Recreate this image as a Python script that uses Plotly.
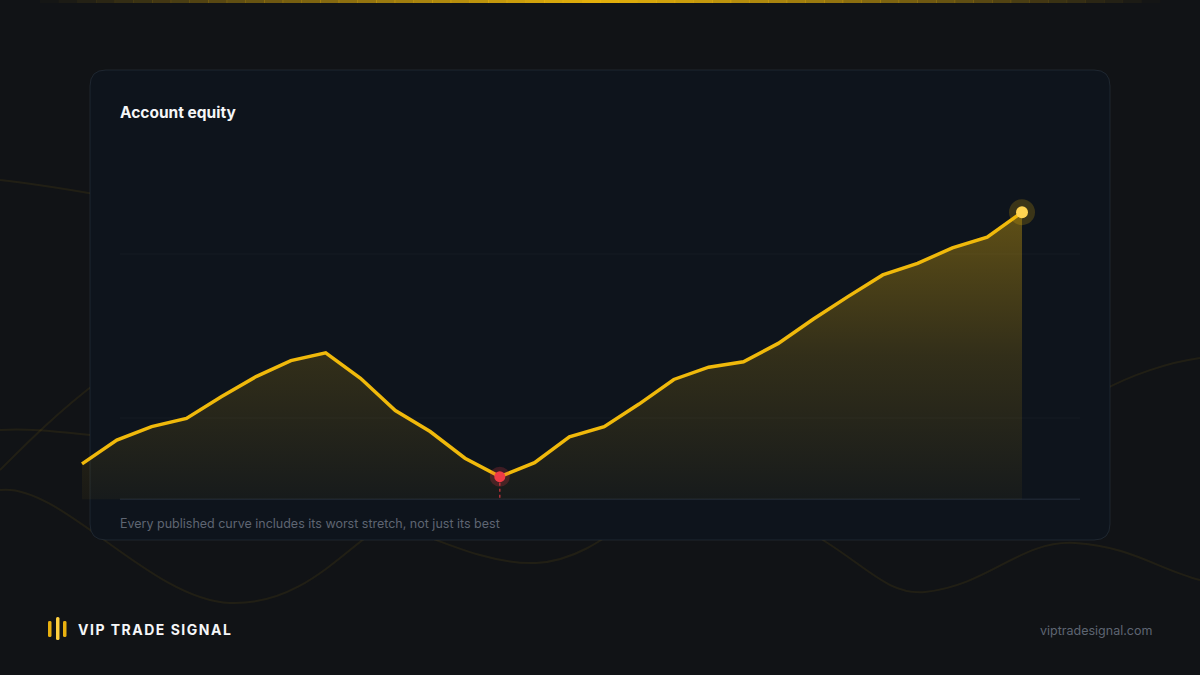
import plotly.graph_objects as go

W, H = 1200, 675

# equity curve, in thousands
days = list(range(1, 29))
equity = [9.88, 10.46, 10.79, 10.99, 11.52, 12.01, 12.40, 12.59, 11.97, 11.18,
          10.67, 10.02, 9.57, 9.91, 10.54, 10.79, 11.34, 11.94, 12.24, 12.37,
          12.82, 13.41, 13.96, 14.49, 14.77, 15.15, 15.41, 16.02]
grid_levels = [11, 15]
baseline = 9.02

title = "Account equity"
caption = "Every published curve includes its worst stretch, not just its best"
brand = "VIP TRADE SIGNAL"
site = "viptradesignal.com"

GOLD = "#f0b90b"
FONT = "Inter, Roboto, sans-serif"


def pt(x, y):
    # pixel -> paper coords
    return "%.5f,%.5f" % (x / W, 1 - y / H)


def rounded_rect(x0, y0, x1, y1, r):
    return ("M" + pt(x0 + r, y0) + " L" + pt(x1 - r, y0) +
            " Q" + pt(x1, y0) + " " + pt(x1, y0 + r) +
            " L" + pt(x1, y1 - r) + " Q" + pt(x1, y1) + " " + pt(x1 - r, y1) +
            " L" + pt(x0 + r, y1) + " Q" + pt(x0, y1) + " " + pt(x0, y1 - r) +
            " L" + pt(x0, y0 + r) + " Q" + pt(x0, y0) + " " + pt(x0 + r, y0) + " Z")


def curve(points):
    # points: start then triples of cubic control points
    s = "M" + pt(*points[0])
    rest = points[1:]
    for i in range(0, len(rest), 3):
        s += " C" + " ".join(pt(*p) for p in rest[i:i + 3])
    return s


shapes = []

# faint background waves
wave_style = dict(type="path", xref="paper", yref="paper", layer="below",
                  line=dict(color="rgba(240,185,11,0.075)", width=2))
waves = [
    [(0, 490), (60, 482), (150, 600), (230, 603), (320, 606), (360, 520), (430, 500),
     (480, 490), (520, 480), (560, 470)],
    [(380, 520), (420, 530), (480, 565), (536, 563), (600, 560), (640, 500), (700, 480),
     (760, 470), (790, 520), (826, 542), (870, 570), (890, 595), (925, 592),
     (990, 585), (1020, 540), (1075, 543), (1130, 546), (1160, 570), (1200, 580)],
    [(0, 180), (30, 183), (60, 188), (100, 195)],
    [(0, 470), (30, 440), (60, 410), (100, 380)],
    [(0, 430), (30, 428), (60, 432), (100, 436)],
    [(1100, 392), (1130, 375), (1170, 362), (1200, 358)],
]
for w in waves:
    shapes.append(dict(wave_style, path=curve(w)))

# gold strip across the top
n_seg = 60
for i in range(n_seg):
    x0 = 40 + i * (1120 / n_seg)
    x1 = x0 + 1120 / n_seg + 0.5
    t = abs((x0 + x1) / 2 - 600) / 560
    shapes.append(dict(type="rect", xref="paper", yref="paper", layer="below",
                       x0=x0 / W, x1=x1 / W, y0=1 - 3 / H, y1=1,
                       fillcolor=GOLD, opacity=max(0.0, 1 - t ** 1.1) * 0.95,
                       line=dict(width=0)))

# card
shapes.append(dict(type="path", xref="paper", yref="paper", layer="below",
                   path=rounded_rect(90, 70, 1110, 540, 16),
                   fillcolor="#0e141c", line=dict(color="rgba(120,140,170,0.16)", width=1)))

# grid + baseline
for g in grid_levels:
    shapes.append(dict(type="line", xref="paper", yref="y", layer="below",
                       x0=120 / W, x1=1080 / W, y0=g, y1=g,
                       line=dict(color="rgba(255,255,255,0.03)", width=1)))
shapes.append(dict(type="line", xref="paper", yref="y", layer="below",
                   x0=120 / W, x1=1080 / W, y0=baseline, y1=baseline,
                   line=dict(color="#1c2430", width=1.5)))

# logo bars
for bx, by0, by1, col in [(48, 621, 637, "#e8b00f"), (56, 617, 640, "#ffd040"), (63, 621, 637, "#e8b00f")]:
    shapes.append(dict(type="path", xref="paper", yref="paper",
                       path=rounded_rect(bx, by0, bx + 3.5, by1, 1.5),
                       fillcolor=col, line=dict(width=0)))

trough = equity.index(min(equity))
last = len(equity) - 1

fig = go.Figure()
fig.add_trace(go.Scatter(x=days, y=[baseline] * len(days), mode="lines",
                         line=dict(width=0), hoverinfo="skip", showlegend=False))
fig.add_trace(go.Scatter(
    x=days, y=equity, mode="lines", fill="tonexty",
    fillgradient=dict(type="vertical", start=baseline, stop=max(equity),
                      colorscale=[[0, "rgba(240,185,11,0.04)"],
                                  [0.5, "rgba(240,185,11,0.16)"],
                                  [1, "rgba(240,185,11,0.36)"]]),
    line=dict(color=GOLD, width=3.5), showlegend=False))

# drawdown marker
fig.add_trace(go.Scatter(x=[days[trough], days[trough]], y=[equity[trough], baseline],
                         mode="lines", line=dict(color="rgba(239,59,70,0.7)", width=1.5, dash="3px,3px"),
                         showlegend=False))
fig.add_trace(go.Scatter(x=[days[trough]], y=[equity[trough]], mode="markers",
                         marker=dict(size=20, color="rgba(239,59,70,0.22)"), showlegend=False))
fig.add_trace(go.Scatter(x=[days[trough]], y=[equity[trough]], mode="markers",
                         marker=dict(size=11, color="#ef3b46"), showlegend=False))

# latest point
fig.add_trace(go.Scatter(x=[days[last]], y=[equity[last]], mode="markers",
                         marker=dict(size=26, color="rgba(240,185,11,0.2)"), showlegend=False))
fig.add_trace(go.Scatter(x=[days[last]], y=[equity[last]], mode="markers",
                         marker=dict(size=12, color="#ffd452"), showlegend=False))

px_per_day = (1022 - 82) / (len(days) - 1)
px_per_unit = 41.0
x_lo = days[0] - 82 / px_per_day
x_hi = days[0] + (W - 82) / px_per_day
y_lo = 11 - (H - 418) / px_per_unit
y_hi = 11 + 418 / px_per_unit

annotations = [
    dict(text="<b>" + title + "</b>", x=118 / W, y=1 - 112 / H, xanchor="left", yanchor="middle",
         font=dict(size=15.5, color="#f5f6f8", family=FONT)),
    dict(text=caption, x=118 / W, y=1 - 523 / H, xanchor="left", yanchor="middle",
         font=dict(size=12.5, color="#5e6572", family=FONT)),
    dict(text="<b>" + brand + "</b>", x=76 / W, y=1 - 629 / H, xanchor="left", yanchor="middle",
         font=dict(size=14, color="#f5f6f8", family=FONT)),
    dict(text=site, x=1154 / W, y=1 - 630 / H, xanchor="right", yanchor="middle",
         font=dict(size=12.5, color="#5e6572", family=FONT)),
]
for a in annotations:
    a.update(xref="paper", yref="paper", showarrow=False)

fig.update_layout(
    width=W, height=H,
    margin=dict(l=0, r=0, t=0, b=0),
    paper_bgcolor="#111316", plot_bgcolor="rgba(0,0,0,0)",
    xaxis=dict(range=[x_lo, x_hi], visible=False, fixedrange=True),
    yaxis=dict(range=[y_lo, y_hi], visible=False, fixedrange=True),
    shapes=shapes, annotations=annotations,
    hovermode=False,
)

# no page margin; spread out the brand lettering
js = """
document.body.style.margin='0';
document.body.style.background='#111316';
document.querySelectorAll('text.annotation-text').forEach(function(t){
  if (t.textContent === '%s') {
    var b = t.getBBox();
    t.setAttribute('text-anchor', 'start');
    t.setAttribute('x', b.x);
    t.querySelectorAll('tspan').forEach(function(s){ if (s.hasAttribute('x')) s.setAttribute('x', b.x); });
    t.style.letterSpacing = '1.5px';
  }
});
""" % brand

fig.write_html("out.html", config={"displayModeBar": False}, post_script=js)
